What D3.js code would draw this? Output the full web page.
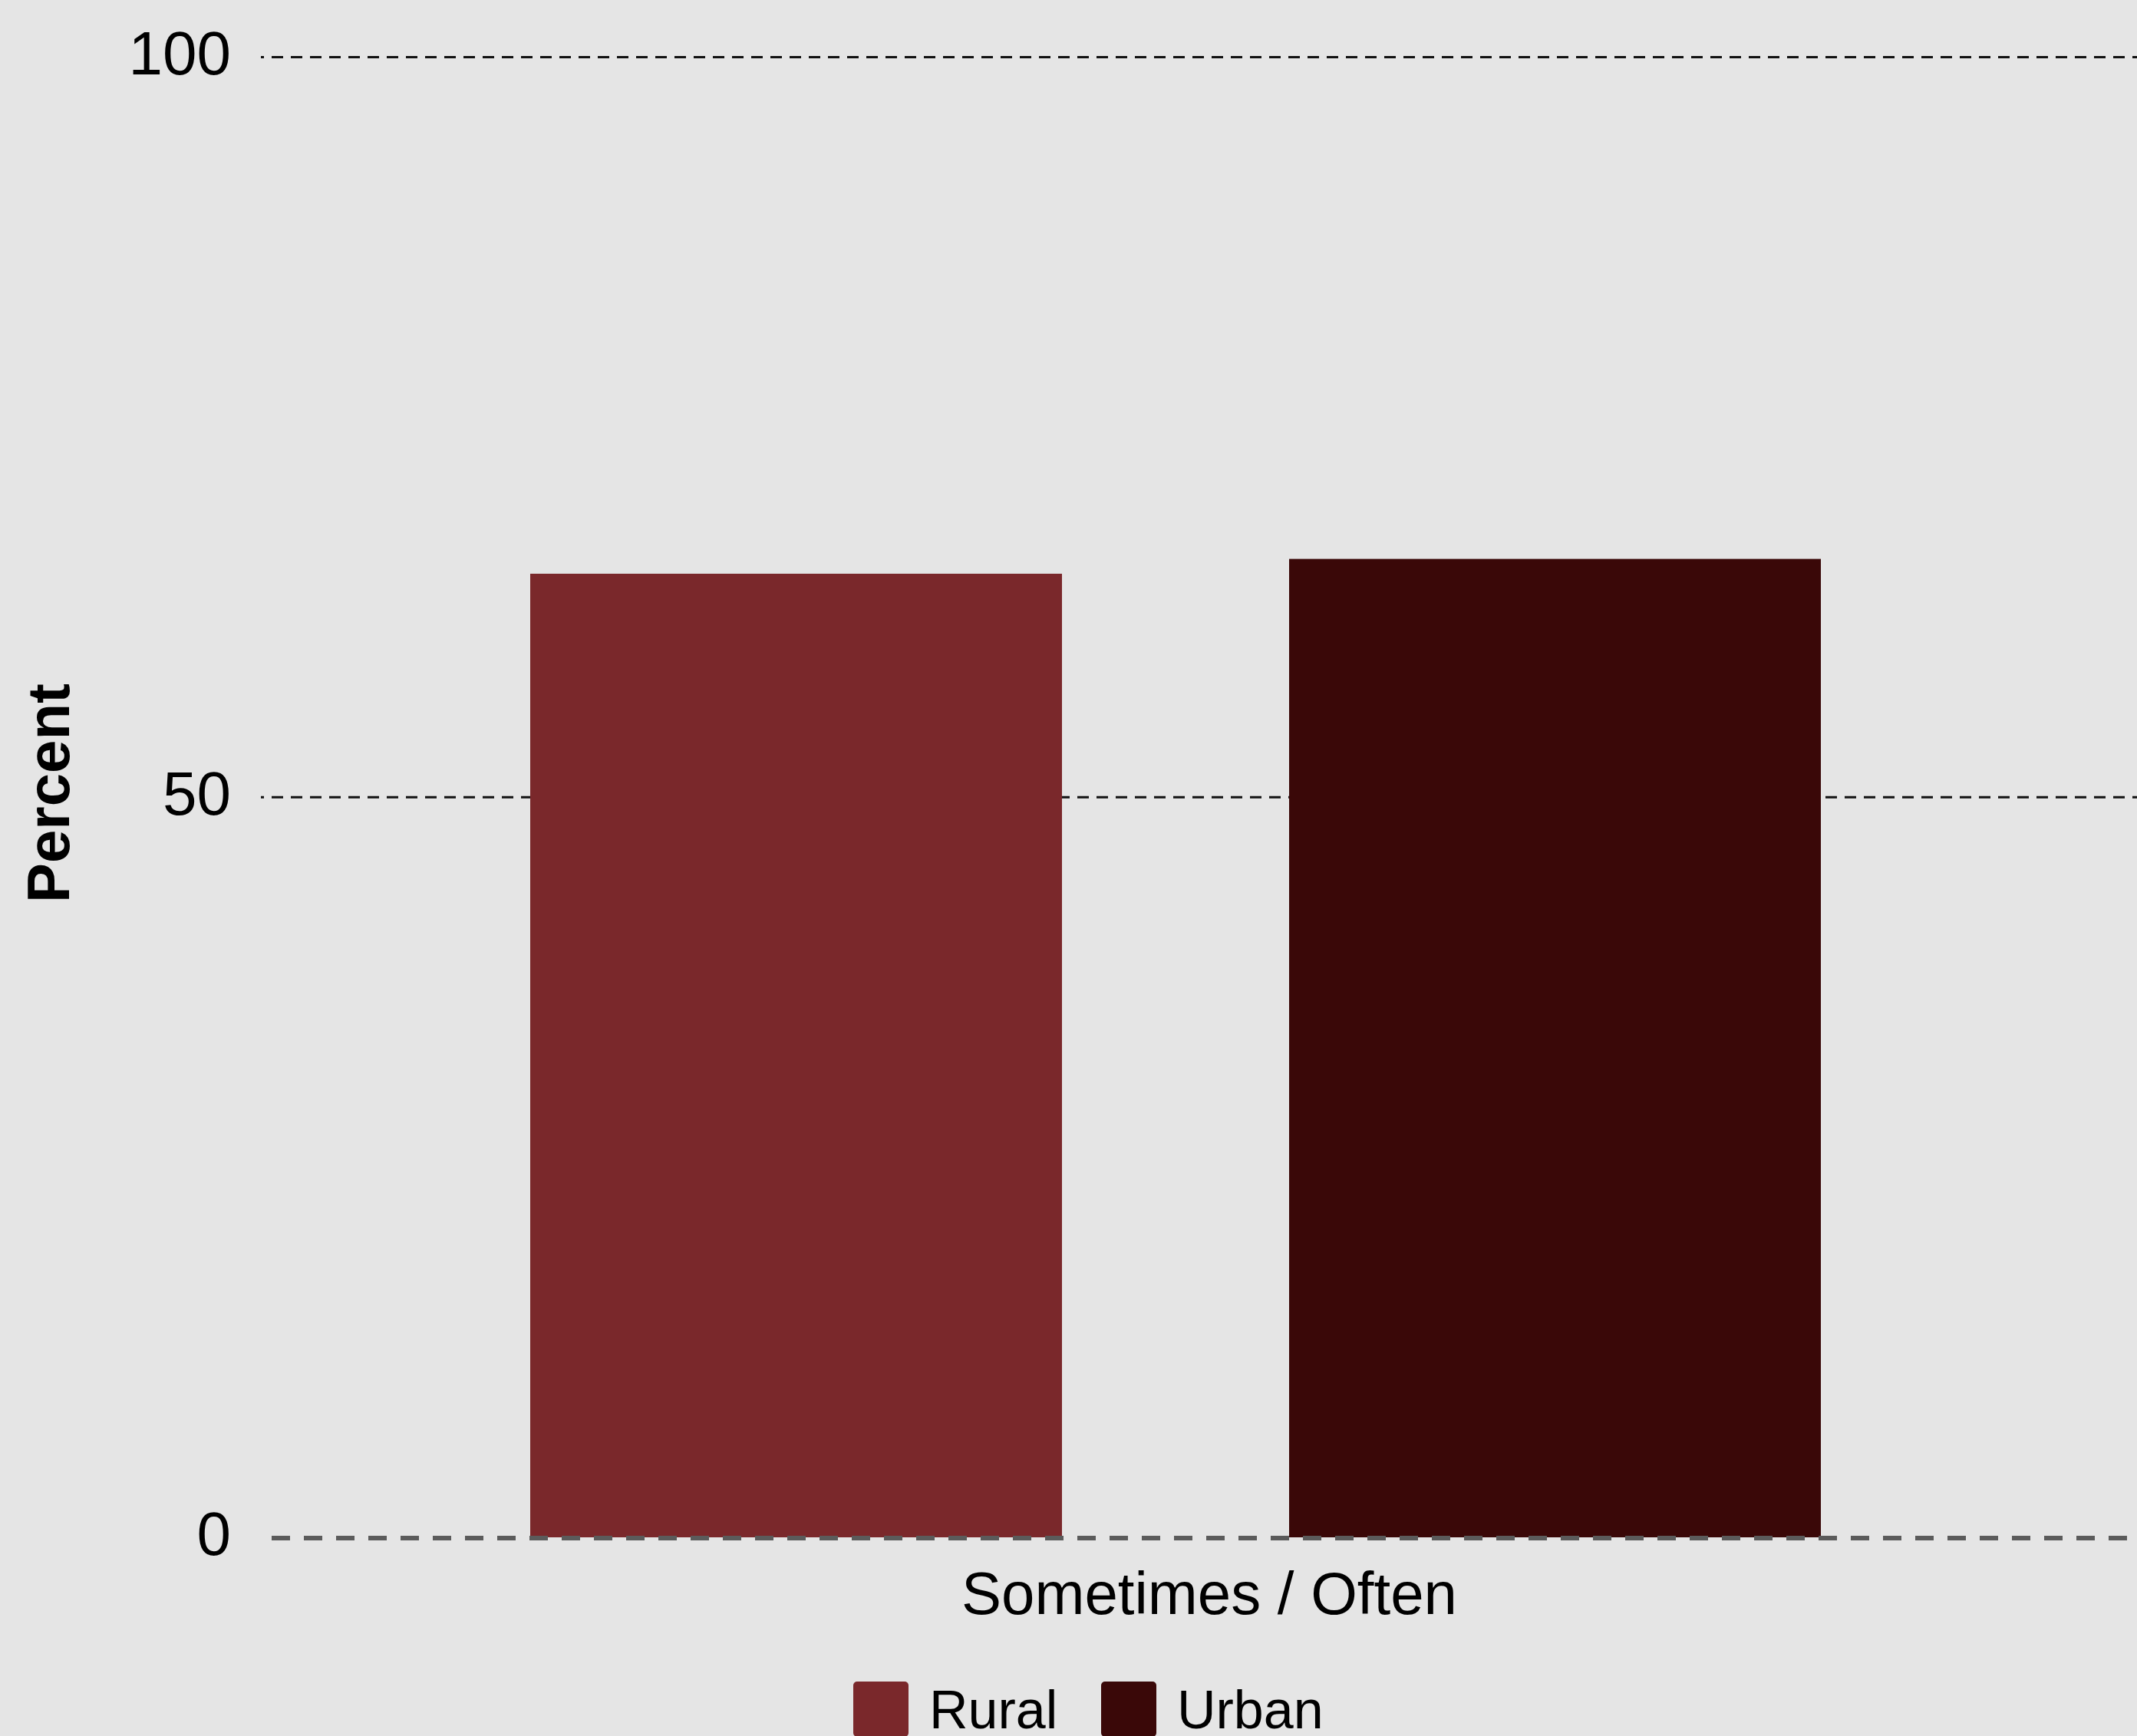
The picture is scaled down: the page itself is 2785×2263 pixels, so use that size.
<!DOCTYPE html>
<html>
<head>
<meta charset="utf-8">
<script src="https://cdn.jsdelivr.net/npm/d3@7"></script>
<style>
  html, body { margin: 0; padding: 0; background: #e5e5e5; }
  svg { display: block; }
  text { font-family: "Liberation Sans", Arial, sans-serif; }
</style>
</head>
<body>
<script>
// ---- data ----
const categories = ["Sometimes / Often"];
const seriesNames = ["Rural", "Urban"];
const ruralValues = [65.1];
const urbanValues = [66.1];
const yTickValues = [0, 50, 100];
const yAxisTitle = "Percent";
const seriesColors = ["#7a282b", "#3a0808"];

// ---- layout ----
const W = 2785, H = 2263;
const svg = d3.select("body").append("svg").attr("width", W).attr("height", H);
svg.append("rect").attr("width", W).attr("height", H).attr("fill", "#e5e5e5");

const y = d3.scaleLinear().domain([0, 100]).range([2004, 74.5]);
const gridLeft = 340, zeroLeft = 354, plotRight = W;

// outer band for the category, inner band for the series
const x0 = d3.scaleBand().domain(categories).range([353, 2711]).padding(0);
const x1 = d3.scaleBand().domain(seriesNames)
  .range([691 - 353, 2373 - 353]).paddingInner(0.2993).paddingOuter(0);
const color = d3.scaleOrdinal().domain(seriesNames).range(seriesColors);

const rows = categories.map((c, i) => ({
  category: c,
  values: [{ key: "Rural", value: ruralValues[i] }, { key: "Urban", value: urbanValues[i] }]
}));

// gridlines (non-zero)
svg.append("g").selectAll("line")
  .data(yTickValues.filter(v => v !== 0))
  .join("line")
  .attr("x1", gridLeft).attr("x2", plotRight)
  .attr("y1", d => y(d)).attr("y2", d => y(d))
  .attr("stroke", "#111").attr("stroke-width", 3)
  .attr("stroke-dasharray", "15,10").attr("stroke-dashoffset", 11);

// bars
svg.append("g").selectAll("g")
  .data(rows).join("g")
  .attr("transform", d => `translate(${x0(d.category)},0)`)
  .selectAll("rect")
  .data(d => d.values).join("rect")
  .attr("x", d => x1(d.key))
  .attr("width", x1.bandwidth())
  .attr("y", d => y(d.value))
  .attr("height", d => y(0) - y(d.value))
  .attr("fill", d => color(d.key));

// zero line
svg.append("line")
  .attr("x1", zeroLeft).attr("x2", plotRight)
  .attr("y1", y(0) + 1).attr("y2", y(0) + 1)
  .attr("stroke", "#5b5b5b").attr("stroke-width", 6)
  .attr("stroke-dasharray", "24,18");

// y axis labels
const yAxis = d3.axisLeft(y).tickValues(yTickValues).tickSize(0).tickPadding(39)
  .tickFormat(d3.format("d"));
const gy = svg.append("g").attr("transform", `translate(${gridLeft},0)`).call(yAxis);
gy.select(".domain").remove();
gy.selectAll("text")
  .attr("font-family", "'Liberation Sans', Arial, sans-serif")
  .attr("font-size", 80).attr("fill", "#000").attr("dy", "0.28em");

// y axis title
svg.append("text")
  .attr("transform", `translate(90,1034) rotate(-90)`)
  .attr("text-anchor", "middle")
  .attr("font-size", 78).attr("font-weight", "bold").attr("fill", "#000")
  .text(yAxisTitle);

// x axis category label
svg.append("g").selectAll("text")
  .data(categories).join("text")
  .attr("x", 1576).attr("y", 2104)
  .attr("text-anchor", "middle")
  .attr("font-size", 78).attr("fill", "#000")
  .text(d => d);

// legend
const legendX = [1112, 1435];
const lg = svg.append("g").selectAll("g")
  .data(seriesNames).join("g")
  .attr("transform", (d, i) => `translate(${legendX[i]},2192)`);
lg.append("rect")
  .attr("width", 72).attr("height", 72).attr("rx", 5).attr("ry", 5)
  .attr("fill", d => color(d));
lg.append("text")
  .attr("x", 99).attr("y", 61)
  .attr("font-size", 70).attr("fill", "#000")
  .text(d => d);
</script>
</body>
</html>
